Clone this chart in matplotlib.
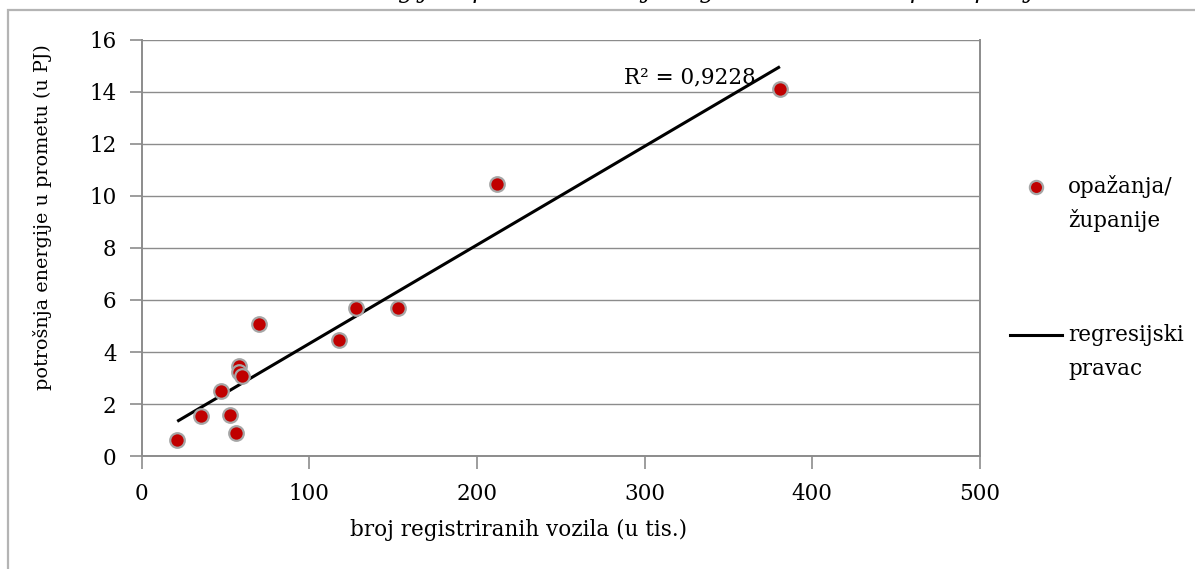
import numpy as np
import matplotlib.pyplot as plt
import matplotlib as mpl
from matplotlib.lines import Line2D
from matplotlib.patches import Rectangle

mpl.rcParams['font.family'] = ['DejaVu Serif']

# broj registriranih vozila (u tis.) i potrošnja energije u prometu (u PJ) po županijama
vozila = [21.2, 35.4, 47.1, 52.7, 56.3, 57.9, 57.9, 59.7, 70.2, 117.7, 127.7, 153.1, 211.8, 380.8]
energija = [0.63, 1.55, 2.52, 1.59, 0.88, 3.48, 3.25, 3.08, 5.09, 4.47, 5.68, 5.68, 10.44, 14.09]
r2_tekst = "R² = 0,9228"
x_ticks = [0, 100, 200, 300, 400, 500]
y_ticks = [0, 2, 4, 6, 8, 10, 12, 14, 16]

siva = '#8c8c8c'
fs = 15.5

fig = plt.figure(figsize=(11.95, 5.69), dpi=100)
ax = fig.add_axes([141.7 / 1195, 1 - 456.3 / 569, (979.7 - 141.7) / 1195, (456.3 - 39.5) / 569])

# okvir grafikona
fig.patches.append(Rectangle((8 / 1195, -0.1), 1.2, 1 - 10 / 569 + 0.1, transform=fig.transFigure,
                             fill=False, edgecolor='#b4b4b4', linewidth=1.6, zorder=0))

# naslov (odrezan na vrhu)
fig.text(0.51, 1 + 2.0 / 569, "Slika 5: Ovisnost energije u prometu o broju registriranih vozila po županijama",
         ha='center', va='baseline', fontsize=17, style='italic')

# regresijski pravac
k, l = np.polyfit(vozila, energija, 1)
xr = np.array([min(vozila), max(vozila)])
ax.plot(xr, k * xr + l, color='black', linewidth=2.2, zorder=4, solid_capstyle='butt')

ax.scatter(vozila, energija, s=110, color='#c00000', edgecolors='#a6a6a6', linewidths=1.6, zorder=5)

ax.text(327, 14.33, r2_tekst, fontsize=fs, ha='center', va='baseline')

ax.set_xlim(0, 500)
ax.set_ylim(0, 16)
ax.set_xticks(x_ticks)
ax.set_yticks(y_ticks)
ax.tick_params(axis='both', labelsize=fs, color=siva, length=9, width=1.2, direction='out')
ax.tick_params(axis='x', pad=10.5)
ax.tick_params(axis='y', pad=9)
ax.grid(axis='y', color=siva, linewidth=1.0)
ax.set_axisbelow(True)
for s in ['left', 'bottom', 'right']:
    ax.spines[s].set_color(siva)
    ax.spines[s].set_linewidth(1.4)
ax.spines['top'].set_visible(False)

ax.set_xlabel("broj registriranih vozila (u tis.)", fontsize=fs, va='center')
ax.xaxis.set_label_coords(0.450, -0.177)
ax.set_ylabel("potrošnja energije u prometu (u PJ)", fontsize=13.8, va='center')
ax.yaxis.set_label_coords(-0.118, 0.574)

# legenda
fig.add_artist(Line2D([1036 / 1195], [1 - 187 / 569], marker='o', markersize=9.5,
                      markerfacecolor='#c00000', markeredgecolor='#a6a6a6', markeredgewidth=1.6,
                      transform=fig.transFigure))
fig.text(1068 / 1195, 1 - 187 / 569, "opažanja/", fontsize=fs, va='center')
fig.text(1068 / 1195, 1 - 221 / 569, "županije", fontsize=fs, va='center')
fig.add_artist(Line2D([1010 / 1195, 1062 / 1195], [1 - 335 / 569, 1 - 335 / 569],
                      color='black', linewidth=2.2, transform=fig.transFigure))
fig.text(1068 / 1195, 1 - 335 / 569, "regresijski", fontsize=fs, va='center')
fig.text(1068 / 1195, 1 - 369 / 569, "pravac", fontsize=fs, va='center')

fig.savefig('out.png', dpi=100)
